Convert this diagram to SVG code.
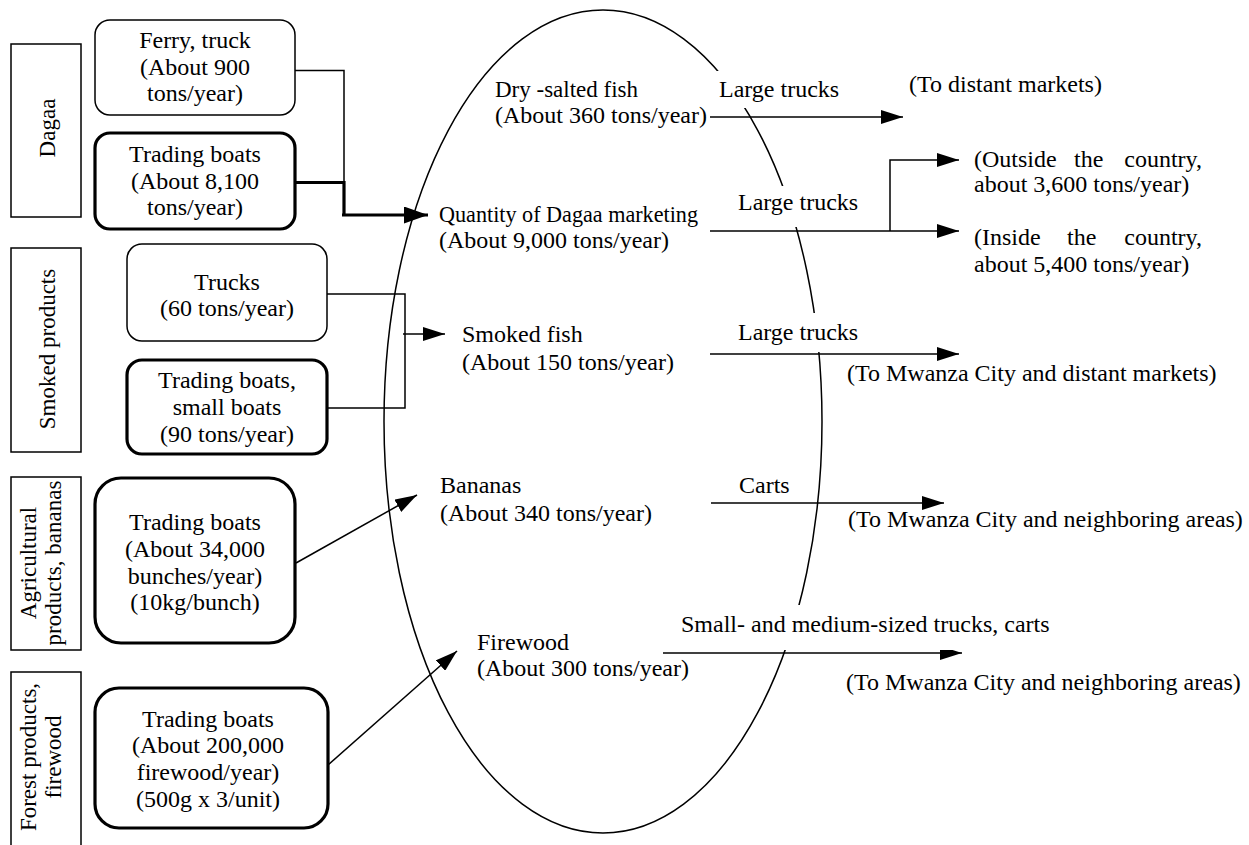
<svg xmlns="http://www.w3.org/2000/svg" width="1249" height="845" viewBox="0 0 1249 845">
<style>
text{font-family:"Liberation Serif","Times New Roman",serif;font-size:24px;fill:#000}
.c{text-anchor:middle}
.v{font-size:23px;text-anchor:middle}
.cat{fill:#fff;stroke:#000;stroke-width:1.5}
.thin{fill:#fff;stroke:#000;stroke-width:1.5}
.thick{fill:#fff;stroke:#000;stroke-width:3.2}
.ln{fill:none;stroke:#000;stroke-width:1.5}
.lnb{fill:none;stroke:#000;stroke-width:3.2}
.mask{fill:#fff;stroke:none}
</style>
<defs>
<marker id="ah" markerUnits="userSpaceOnUse" markerWidth="22" markerHeight="14" refX="22" refY="7" orient="auto">
<path d="M0,0 L22,7 L0,14 z" fill="#000"/>
</marker>
<marker id="ahb" markerUnits="userSpaceOnUse" markerWidth="24" markerHeight="17" refX="24" refY="8.5" orient="auto">
<path d="M0,0 L24,8.5 L0,17 z" fill="#000"/>
</marker>
</defs>
<rect width="1249" height="845" fill="#fff"/>

<g id="market-ellipse">
<ellipse cx="603" cy="421.5" rx="219" ry="411.5" fill="none" stroke="#000" stroke-width="1.5"/>
</g>

<g id="category-dagaa">
<rect class="cat" x="11" y="44" width="70" height="173"/>
<text class="v" transform="translate(55,128) rotate(-90)">Dagaa</text>
</g>
<g id="category-smoked">
<rect class="cat" x="11" y="248" width="70" height="204"/>
<text class="v" transform="translate(55,349) rotate(-90)">Smoked products</text>
</g>
<g id="category-agri">
<rect class="cat" x="11" y="477" width="70" height="173"/>
<text class="v" transform="translate(36,563) rotate(-90)">Agricultural</text>
<text class="v" transform="translate(61,563) rotate(-90)">products, bananas</text>
</g>
<g id="category-forest">
<rect class="cat" x="11" y="672" width="70" height="176"/>
<text class="v" transform="translate(36,757) rotate(-90)">Forest products,</text>
<text class="v" transform="translate(61,757) rotate(-90)">firewood</text>
</g>

<g id="src-ferry">
<rect class="thin" x="95" y="20" width="200" height="95" rx="15"/>
<text class="c" x="195" y="48">Ferry, truck</text>
<text class="c" x="195" y="74.5">(About 900</text>
<text class="c" x="195" y="101">tons/year)</text>
</g>
<g id="src-dagaa-boats">
<rect class="thick" x="95" y="133" width="200" height="96" rx="15"/>
<text class="c" x="195" y="162">Trading boats</text>
<text class="c" x="195" y="188.5">(About 8,100</text>
<text class="c" x="195" y="215">tons/year)</text>
</g>
<g id="src-trucks">
<rect class="thin" x="127" y="244" width="200" height="97" rx="15"/>
<text class="c" x="227" y="290">Trucks</text>
<text class="c" x="227" y="316">(60 tons/year)</text>
</g>
<g id="src-smoked-boats">
<rect class="thick" x="127" y="360" width="200" height="94" rx="15"/>
<text class="c" x="227" y="388">Trading boats,</text>
<text class="c" x="227" y="415">small boats</text>
<text class="c" x="227" y="442">(90 tons/year)</text>
</g>
<g id="src-banana-boats">
<rect class="thick" x="95" y="478" width="200" height="165" rx="26"/>
<text class="c" x="195" y="530">Trading boats</text>
<text class="c" x="195" y="557">(About 34,000</text>
<text class="c" x="195" y="584">bunches/year)</text>
<text class="c" x="195" y="610">(10kg/bunch)</text>
</g>
<g id="src-firewood-boats">
<rect class="thick" x="95" y="688" width="233" height="140" rx="24"/>
<text class="c" x="208" y="727">Trading boats</text>
<text class="c" x="208" y="753">(About 200,000</text>
<text class="c" x="208" y="780">firewood/year)</text>
<text class="c" x="208" y="807">(500g x 3/unit)</text>
</g>

<g id="connectors">
<polyline class="ln" points="295,70.5 344,70.5 344,215"/>
<polyline class="lnb" points="295,182.5 344,182.5 344,215"/>
<line class="lnb" x1="342" y1="215" x2="428" y2="215" marker-end="url(#ahb)"/>
<polyline class="ln" points="327,294 405,294 405,408 328,408"/>
<line class="ln" x1="403" y1="334" x2="445" y2="334" marker-end="url(#ah)"/>
<line class="ln" x1="296" y1="563" x2="417" y2="495" marker-end="url(#ah)"/>
<line class="ln" x1="328" y1="765" x2="457" y2="651" marker-end="url(#ah)"/>
<line class="ln" x1="710" y1="117" x2="903" y2="117" marker-end="url(#ah)"/>
<line class="ln" x1="710" y1="231" x2="959" y2="231" marker-end="url(#ah)"/>
<polyline class="ln" points="890,231 890,160 959,160" marker-end="url(#ah)"/>
<line class="ln" x1="710" y1="354" x2="959" y2="354" marker-end="url(#ah)"/>
<line class="ln" x1="711" y1="503" x2="944" y2="503" marker-end="url(#ah)"/>
<line class="ln" x1="663" y1="653" x2="962" y2="653" marker-end="url(#ah)"/>
</g>

<g id="market-items">
<text x="495" y="97" textLength="143" lengthAdjust="spacingAndGlyphs">Dry -salted fish</text>
<text x="495" y="123">(About 360 tons/year)</text>
<text x="439" y="222" textLength="259" lengthAdjust="spacingAndGlyphs">Quantity of Dagaa marketing</text>
<text x="439" y="248">(About 9,000 tons/year)</text>
<text x="462" y="342">Smoked fish</text>
<text x="462" y="370">(About 150 tons/year)</text>
<text x="440" y="493">Bananas</text>
<text x="440" y="521">(About 340 tons/year)</text>
<text x="477" y="650">Firewood</text>
<text x="477" y="676">(About 300 tons/year)</text>
</g>

<g id="transport-labels">
<rect class="mask" x="712" y="71" width="160" height="37"/>
<text x="719" y="97">Large trucks</text>
<rect class="mask" x="733" y="186" width="140" height="41"/>
<text x="738" y="210">Large trucks</text>
<rect class="mask" x="733" y="313" width="140" height="39"/>
<text x="738" y="340">Large trucks</text>
<text x="739" y="493">Carts</text>
<rect class="mask" x="676" y="605" width="380" height="45"/>
<text x="681" y="632">Small- and medium-sized trucks, carts</text>
</g>

<g id="destinations">
<text x="909" y="92">(To distant markets)</text>
<text x="974" y="167">(Outside</text>
<text x="1074" y="167">the</text>
<text x="1202" y="167" text-anchor="end">country,</text>
<text x="974" y="192">about 3,600 tons/year)</text>
<text x="974" y="245">(Inside</text>
<text x="1067" y="245">the</text>
<text x="1202" y="245" text-anchor="end">country,</text>
<text x="974" y="272">about 5,400 tons/year)</text>
<text x="847" y="381">(To Mwanza City and distant markets)</text>
<text x="848" y="527">(To Mwanza City and neighboring areas)</text>
<text x="846" y="690">(To Mwanza City and neighboring areas)</text>
</g>
</svg>
